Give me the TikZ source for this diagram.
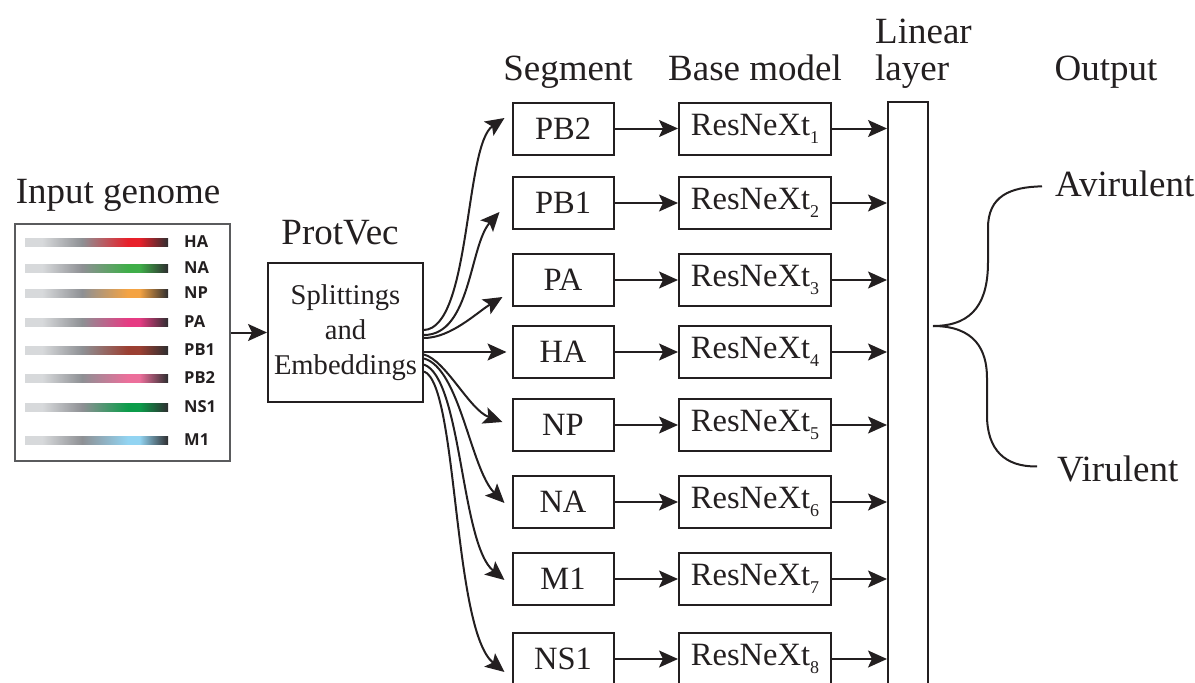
\documentclass[tikz,border=0pt]{standalone}
\usepackage{fontspec}
\setmainfont{Liberation Serif}
\newfontfamily\labfont{Open Sans}
\usetikzlibrary{arrows.meta,calc}

\definecolor{ink}{HTML}{231F20}
\definecolor{frame}{HTML}{5A5B5D}
\definecolor{barL}{HTML}{D7D9DB}
\definecolor{barM}{HTML}{8E9094}
\definecolor{barD}{HTML}{2E2E30}

% one horizontal shading per gene segment: light grey -> grey -> colour -> dark
\newcommand\genebarshade[2]{%
  \definecolor{peak#1}{HTML}{#2}%
  \pgfdeclarehorizontalshading{gene#1}{100bp}{color(0bp)=(barL); color(31bp)=(barL);
    color(45bp)=(barM); color(61bp)=(peak#1); color(65bp)=(peak#1);
    color(75bp)=(barD); color(100bp)=(barD)}}
\genebarshade{HA}{E8202A}
\genebarshade{NA}{3FAE49}
\genebarshade{NP}{F4A343}
\genebarshade{PA}{E63B83}
\genebarshade{PBone}{9B3F32}
\genebarshade{PBtwo}{EC6F9B}
\genebarshade{NSone}{0B9C4A}
\genebarshade{Mone}{92D4F2}

\tikzset{
  title/.style={font=\fontsize{37}{37}\selectfont, text=ink, inner sep=0pt},
  box/.style={draw=ink, line width=2pt, inner sep=0pt, text=ink,
    font=\fontsize{32.5}{34}\selectfont},
  segbox/.style={box, minimum width=101pt, minimum height=52pt},
  netbox/.style={box, minimum width=152pt, minimum height=52pt},
  genebar/.style={inner sep=0pt, minimum width=143pt, minimum height=8pt},
  genelabel/.style={anchor=west, inner sep=0pt, text=ink,
    font=\labfont\bfseries\fontsize{16.5}{17}\selectfont},
  arr/.style={draw=ink, line width=2pt,
    -{Stealth[length=19pt, width=17pt, inset=4pt]}},
  link/.style={draw=ink, line width=2pt},
}

\newcommand\resnext[1]{ResNeXt\raisebox{-8pt}{\fontsize{18}{18}\selectfont #1}}

\begin{document}
\begin{tikzpicture}[x=1pt, y=-1pt]
\useasboundingbox (0,0) rectangle (1195,683);
\clip (0,0) rectangle (1195,683);

% ---------------- input genome ----------------
\node[title, anchor=base] (ingTitle) at (118,203) {Input genome};
\node[draw=frame, line width=2pt, minimum width=215pt, minimum height=237pt,
      inner sep=0pt] (genome) at (122.5,342.5) {};
\foreach \g/\lab/\y in {HA/HA/242, NA/NA/268, NP/NP/293, PA/PA/322,
                        PBone/PB1/350, PBtwo/PB2/378, NSone/NS1/407, Mone/M1/440}{
  \node[genebar, shading=gene\g] (bar\g) at (96.5,\y) {};
  \node[genelabel] (lab\g) at (184,\y) {\lab};
}

% ---------------- ProtVec ----------------
\node[title, anchor=base] (pvTitle) at (340,244) {ProtVec};
\node[box, minimum width=155pt, minimum height=139pt, align=center,
      font=\fontsize{28.6}{35}\selectfont] (pv) at (345.5,332.5)
      {Splittings\\and\\Embeddings};
\draw[arr] (genome.east |- pv.west) -- (pv.west);

% ---------------- column titles ----------------
\node[title, anchor=base] (segTitle) at (568,80) {Segment};
\node[title, anchor=base] (baseTitle) at (755,80) {Base model};
\node[title, anchor=base west, align=left] (linTitle) at (875,80) {Linear\\layer};
\node[title, anchor=base] (outTitle) at (1106,80) {Output};

% ---------------- linear layer ----------------
\node[draw=ink, line width=2pt, minimum width=40pt, minimum height=620pt,
      inner sep=0pt] (layer) at (908,412) {};

% ---------------- segments and base models ----------------
\foreach \s/\lab/\y/\i in {PBtwo/PB2/128.5/1, PBone/PB1/203/2, PA/PA/280/3,
                           HA/HA/352/4, NP/NP/425/5, NA/NA/502/6,
                           Mone/M1/579/7, NSone/NS1/659/8}{
  \node[segbox] (s\s) at (563,\y) {\raisebox{-2.5pt}{\lab}};
  \node[netbox] (r\s) at (755,\y) {\resnext{\i}};
  \draw[arr] (s\s.east) -- (r\s.west);
  \draw[arr] (r\s.east) -- (r\s.east -| layer.west);
}

% ---------------- fan of splittings ----------------
\draw[arr] ([yshift=2.5pt]pv.east) .. controls +(47,-2) and +(-40,27) ..
           ([xshift=-7pt,yshift=10.5pt]sPBtwo.west);
\draw[arr] ([yshift=-2.5pt]pv.east) .. controls +(47,0) and +(-30,33) ..
           ([xshift=-12pt,yshift=-9pt]sPBone.west);
\draw[arr] ([yshift=-5.5pt]pv.east) .. controls +(27,0) and +(-25,15) ..
           ([xshift=-9pt,yshift=-17pt]sPA.west);
\draw[arr] ([yshift=-19.5pt]pv.east) -- ([xshift=-5pt]sHA.west);
\draw[arr] ([yshift=-22pt]pv.east) .. controls +(22,6) and +(-33,-12) ..
           ([xshift=-9pt,yshift=3pt]sNP.west);
\draw[arr] ([yshift=-26pt]pv.east) .. controls +(36,10) and +(-34,-34) ..
           ([xshift=-7pt,yshift=-1pt]sNA.west);
\draw[arr] ([yshift=-32pt]pv.east) .. controls +(38,14) and +(-44,-36) ..
           ([xshift=-7pt,yshift=-1pt]sMone.west);
\draw[arr] ([yshift=-39pt]pv.east) .. controls +(34,12) and +(-52,-42) ..
           ([xshift=-7pt,yshift=-13pt]sNSone.west);

% ---------------- output brace ----------------
\node[title, anchor=base west] (avir) at (1055,196) {Avirulent};
\node[title, anchor=base west] (vir) at (1057,481) {Virulent};
\coordinate (tip) at ([xshift=4pt]layer.east |- 0,326);
\draw[link] (tip) .. controls (975,326) and (988,300) .. (988,262)
            -- (988,228) .. controls (988,196) and (1010,187) ..
            ([xshift=-13pt,yshift=-3pt]avir.west);
\draw[link] (tip) .. controls (975,326) and (987,350) .. (987,378)
            -- (987,415) .. controls (987,450) and (1005,467) ..
            ([xshift=-20pt,yshift=2pt]vir.west);
\end{tikzpicture}
\end{document}
